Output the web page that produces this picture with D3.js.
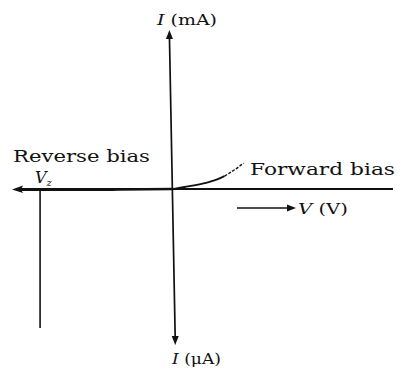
<!DOCTYPE html>
<html>
<head>
<meta charset="utf-8">
<script src="https://cdn.jsdelivr.net/npm/d3@7"></script>
<style>
html,body{margin:0;padding:0;background:#fff;}
svg{display:block;}
text{font-family:"DejaVu Serif","Liberation Serif",serif;fill:#111;}
</style>
</head>
<body>
<svg id="chart" width="400" height="371"></svg>
<script>
// ---- data (conceptual diode I-V characteristic) ----
const forwardV = [0, 0.6, 1.6, 2.2, 2.6];
const forwardI = [0, 0.1, 0.29, 0.47, 0.65];
const leaderV  = [2.6, 3.1, 3.55];
const leaderI  = [0.65, 0.97, 1.3];
const reverseV = [-7.6, -6.6, -3, 0];
const reverseI = [-0.04, -0.04, -0.03, 0];
const zenerV = -6.6;
const zenerI = [0, -7];
const vDomain = [-8, 11];
const iDomain = [-7.85, 8];
const labels = {
  reverse: "Reverse bias",
  forward: "Forward bias",
  vAxis: "V (V)",
  iTop: "I (mA)",
  iBottom: "I (μA)"
};

const svg = d3.select("#chart");
const x = d3.scaleLinear().domain(vDomain).range([12, 393]);
const y = d3.scaleLinear().domain(iDomain).range([345, 30]);

const x0 = x(0), y0 = y(0);
const ink = "#111";

// horizontal axis
svg.append("line").attr("x1", x(vDomain[0]) + 4).attr("x2", x(vDomain[1]))
  .attr("y1", y0).attr("y2", y0).attr("stroke", ink).attr("stroke-width", 1.8);
// left arrowhead
svg.append("path")
  .attr("d", `M${x(vDomain[0])},${y0 + 0.5} L${x(vDomain[0]) + 11},${y0 - 3.5} L${x(vDomain[0]) + 9},${y0 + 0.5} L${x(vDomain[0]) + 11},${y0 + 4} Z`)
  .attr("fill", ink);

// vertical axis (slightly tilted as in the scan)
const topX = x0 - 3, botX = x0 + 2.8;
svg.append("line").attr("x1", topX).attr("y1", y(iDomain[1]) + 6)
  .attr("x2", botX).attr("y2", y(iDomain[0]) - 6)
  .attr("stroke", ink).attr("stroke-width", 1.7);
svg.append("path")
  .attr("d", `M${topX},${y(iDomain[1])} L${topX - 3.5},${y(iDomain[1]) + 9} L${topX + 3.5},${y(iDomain[1]) + 9} Z`)
  .attr("fill", ink);
svg.append("path")
  .attr("d", `M${botX},${y(iDomain[0])} L${botX - 3.5},${y(iDomain[0]) - 9} L${botX + 3.5},${y(iDomain[0]) - 9} Z`)
  .attr("fill", ink);

const line = d3.line().x(d => x(d[0])).y(d => y(d[1])).curve(d3.curveMonotoneX);

// reverse bias (thick, on the axis)
svg.append("path").datum(reverseV.map((v, i) => [v, reverseI[i]]))
  .attr("d", line).attr("fill", "none").attr("stroke", ink).attr("stroke-width", 2.6);

// forward bias curve
svg.append("path").datum(forwardV.map((v, i) => [v, forwardI[i]]))
  .attr("d", line).attr("fill", "none").attr("stroke", ink).attr("stroke-width", 1.8);
svg.append("path").datum(leaderV.map((v, i) => [v, leaderI[i]]))
  .attr("d", line).attr("fill", "none").attr("stroke", ink).attr("stroke-width", 1.4)
  .attr("stroke-dasharray", "3,1.5");

// zener breakdown line
svg.append("line").attr("x1", x(zenerV)).attr("x2", x(zenerV))
  .attr("y1", y(zenerI[0])).attr("y2", y(zenerI[1]))
  .attr("stroke", ink).attr("stroke-width", 1.6);

// V axis arrow label
svg.append("line").attr("x1", 237).attr("x2", 289).attr("y1", 208).attr("y2", 208)
  .attr("stroke", ink).attr("stroke-width", 1.3);
svg.append("path").attr("d", "M296,208 L287,204.5 L287,211.5 Z").attr("fill", ink);

// texts
function addText(str, tx, ty, size, len, italicFirst) {
  const t = svg.append("text").attr("x", tx).attr("y", ty).attr("font-size", size)
    .attr("textLength", len).attr("lengthAdjust", "spacingAndGlyphs");
  if (italicFirst) {
    t.append("tspan").attr("font-style", "italic").text(str[0]);
    t.append("tspan").text(str.slice(1));
  } else t.text(str);
  return t;
}
addText(labels.reverse, 13, 162, 17, 137, false);
addText(labels.forward, 250, 175, 17.5, 145, false);
addText(labels.vAxis, 298, 214, 15, 50, true);
addText(labels.iTop, 157, 25, 15, 60, true);
addText(labels.iBottom, 172, 364, 15, 49, true);

// V_z label
const vz = svg.append("text").attr("x", 35).attr("y", 183).attr("font-size", 16);
vz.append("tspan").attr("font-style", "italic").text("V");
vz.append("tspan").attr("font-style", "italic").attr("font-size", 10).attr("dy", 3).text("z");
</script>
</body>
</html>
